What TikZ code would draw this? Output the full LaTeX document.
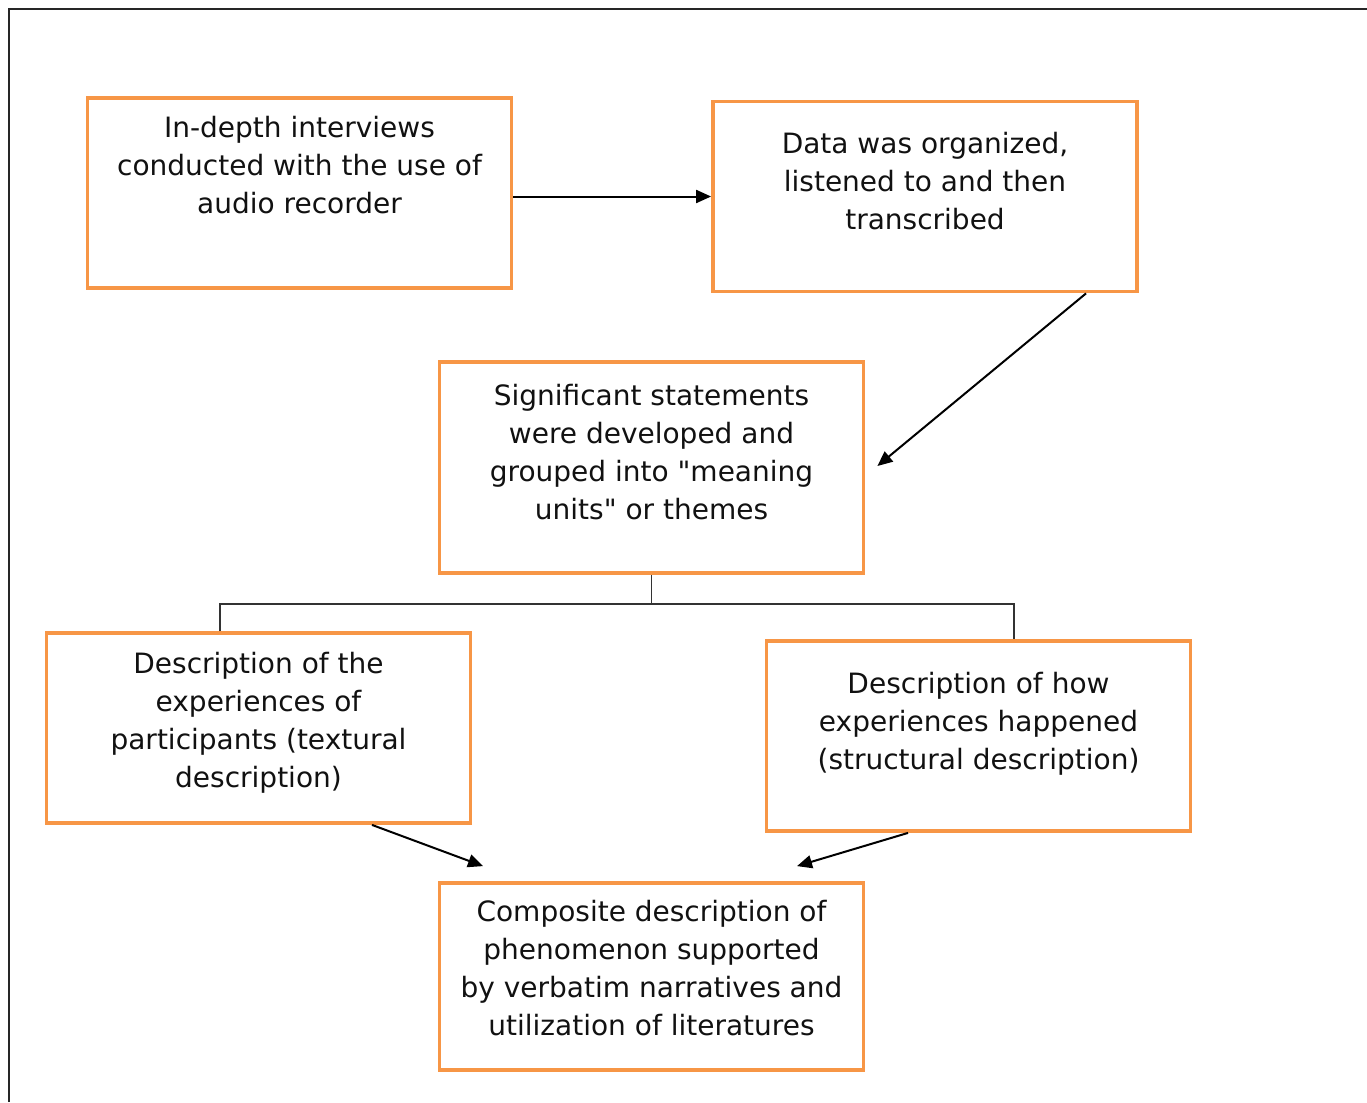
\documentclass[tikz,border=0pt]{standalone}
\usepackage{fontspec}
\setmainfont{DejaVu Sans}[Ligatures=TeXOff]
\usetikzlibrary{arrows.meta}
\definecolor{boxorange}{HTML}{F79646}
\definecolor{inkgrey}{HTML}{111111}
\tikzset{
  stagebox/.style={draw=boxorange, line width=3.8bp, minimum width=#1, minimum height=190bp, inner sep=0pt},
  stagebox/.default=424bp,
  stagetext/.style={anchor=north, align=center, inner sep=0pt, text=inkgrey,
    font=\fontsize{28bp}{38bp}\selectfont, execute at begin node=\strut},
  flowarrow/.style={draw=black, line width=2bp, -{Triangle[length=15bp,width=13bp]}},
  treeline/.style={draw=black!80, line width=1.5bp},
  frameline/.style={draw=black!85, line width=2.4bp}
}
\begin{document}
\begin{tikzpicture}[x=1bp,y=-1bp]
\useasboundingbox (0,0) rectangle (1367,1102);
\draw[frameline] (9,1102) -- (9,9) -- (1367,9);

% boxes
\node[stagebox] (b1) at (299.5,193) {};
\node[stagebox] (b2) at (925,196.5) {};
\node[stagebox, minimum height=211bp] (b3) at (651.5,467.5) {};
\node[stagebox] (b4) at (258.5,728) {};
\node[stagebox] (b5) at (978.5,736) {};
\node[stagebox, minimum height=187bp] (b6) at (651.5,976.5) {};

% texts
\node[stagetext] (t1) at (299.5,116) {In-depth interviews\\conducted with the use of\\audio recorder};
\node[stagetext] (t2) at (925,132) {Data was organized,\\listened to and then\\transcribed};
\node[stagetext] (t3) at (651.5,384) {Significant statements\\were developed and\\grouped into "meaning\\units" or themes};
\node[stagetext] (t4) at (258.5,652) {Description of the\\experiences of\\participants (textural\\description)};
\node[stagetext] (t5) at (978.5,672) {Description of how\\experiences happened\\(structural description)};
\node[stagetext] (t6) at (651.5,900) {Composite description of\\phenomenon supported\\by verbatim narratives and\\utilization of literatures};

% arrows
\draw[flowarrow] (b1.east |- b2.west) -- (b2.west);
\draw[flowarrow] ([xshift=161bp]b2.south) -- ([xshift=12bp,yshift=1.5bp]b3.east);

% tree
\coordinate (jl) at (220,604);
\coordinate (jr) at (1014,604);
\draw[treeline] (b3.south) -- (b3.south |- jl);
\draw[treeline] (b4.north -| jl) -- (jl) -- (jr) -- (b5.north -| jr);

\draw[flowarrow] ([xshift=113.5bp]b4.south) -- ([xshift=-168.5bp,yshift=15bp]b6.north);
\draw[flowarrow] ([xshift=-70.5bp]b5.south) -- ([xshift=145.5bp,yshift=15bp]b6.north);
\end{tikzpicture}
\end{document}
